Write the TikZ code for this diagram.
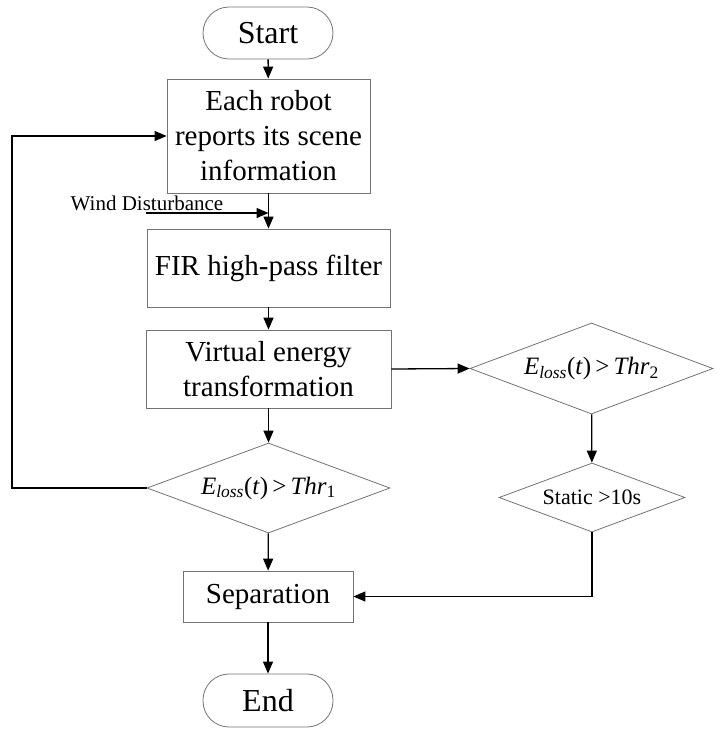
\documentclass[tikz,border=0pt]{standalone}
\usepackage{fontspec}
\setmainfont{Liberation Serif}
\usetikzlibrary{shapes.geometric,arrows.meta,positioning}

\newcommand{\eloss}[1]{\textit{E}\textsubscript{\textit{loss}}(\textit{t})\,>\,\textit{Thr}\textsubscript{#1}}

\begin{document}
\begin{tikzpicture}[x=1pt,y=-1pt,
    box/.style={draw=black!55,line width=0.8pt,rectangle,inner sep=0pt,align=center,
                font=\fontsize{29}{35}\selectfont},
    term/.style={box,rounded corners=26pt,font=\fontsize{32}{38}\selectfont},
    cond/.style={draw=black!55,line width=0.8pt,diamond,aspect=2.7,inner sep=0pt,
                 font=\fontsize{25}{30}\selectfont},
    flow/.style={line width=1.3pt,-{Triangle[length=12pt,width=10pt]}}]
              \useasboundingbox (0,0) rectangle (722,740);

              \node (start) [term,minimum width=130pt,minimum height=52pt] at (268,33) {Start};
              \node (report) [box,minimum width=203pt,minimum height=114pt] at (268.5,136)
                    {Each robot\\reports its scene\\information};
              \node (fir) [box,minimum width=243pt,minimum height=78pt] at (268.5,268) {FIR high-pass filter};
              \node (virt) [box,minimum width=245pt,minimum height=78pt] at (268.5,369)
                    {Virtual energy\\transformation};

              \node (thr1) [cond,minimum width=243pt,minimum height=90pt] at (268.5,488) {\eloss{1}};
              \node (thr2) [cond,minimum width=243pt,minimum height=91pt] at (591.5,368.5) {\eloss{2}};
              \node (static) [cond,minimum width=186pt,minimum height=69pt,font=\fontsize{22}{26}\selectfont]
                    at (592,497.5) {Static >10s};

              \node (sep) [box,minimum width=170pt,minimum height=51pt] at (268,596.5) {Separation};
              \node (end) [term,minimum width=130pt,minimum height=53pt] at (268,700.5) {End};

              \node (wind) [font=\fontsize{21}{25}\selectfont] at (147,203) {Wind Disturbance};
              \coordinate (w0) at (146,213);
              \coordinate (back) at (12,136);

              \begin{scope}[flow]
                  \draw (start) -- (report);
                  \draw (report) -- (fir);
                  \draw (w0) -- (w0 -| report.south);
                  \draw (fir) -- (virt);
                  \draw (virt) -- (thr1);
                  \draw (virt.east) -- (thr2.west);
                  \draw (thr2) -- (static);
                  \draw (thr1.west) -| (back) -- (report.west);
                  \draw (thr1) -- (sep);
                  \draw (static.south) |- (sep.east);
                  \draw (sep) -- (end);
              \end{scope}

          \end{tikzpicture}
\end{document}
